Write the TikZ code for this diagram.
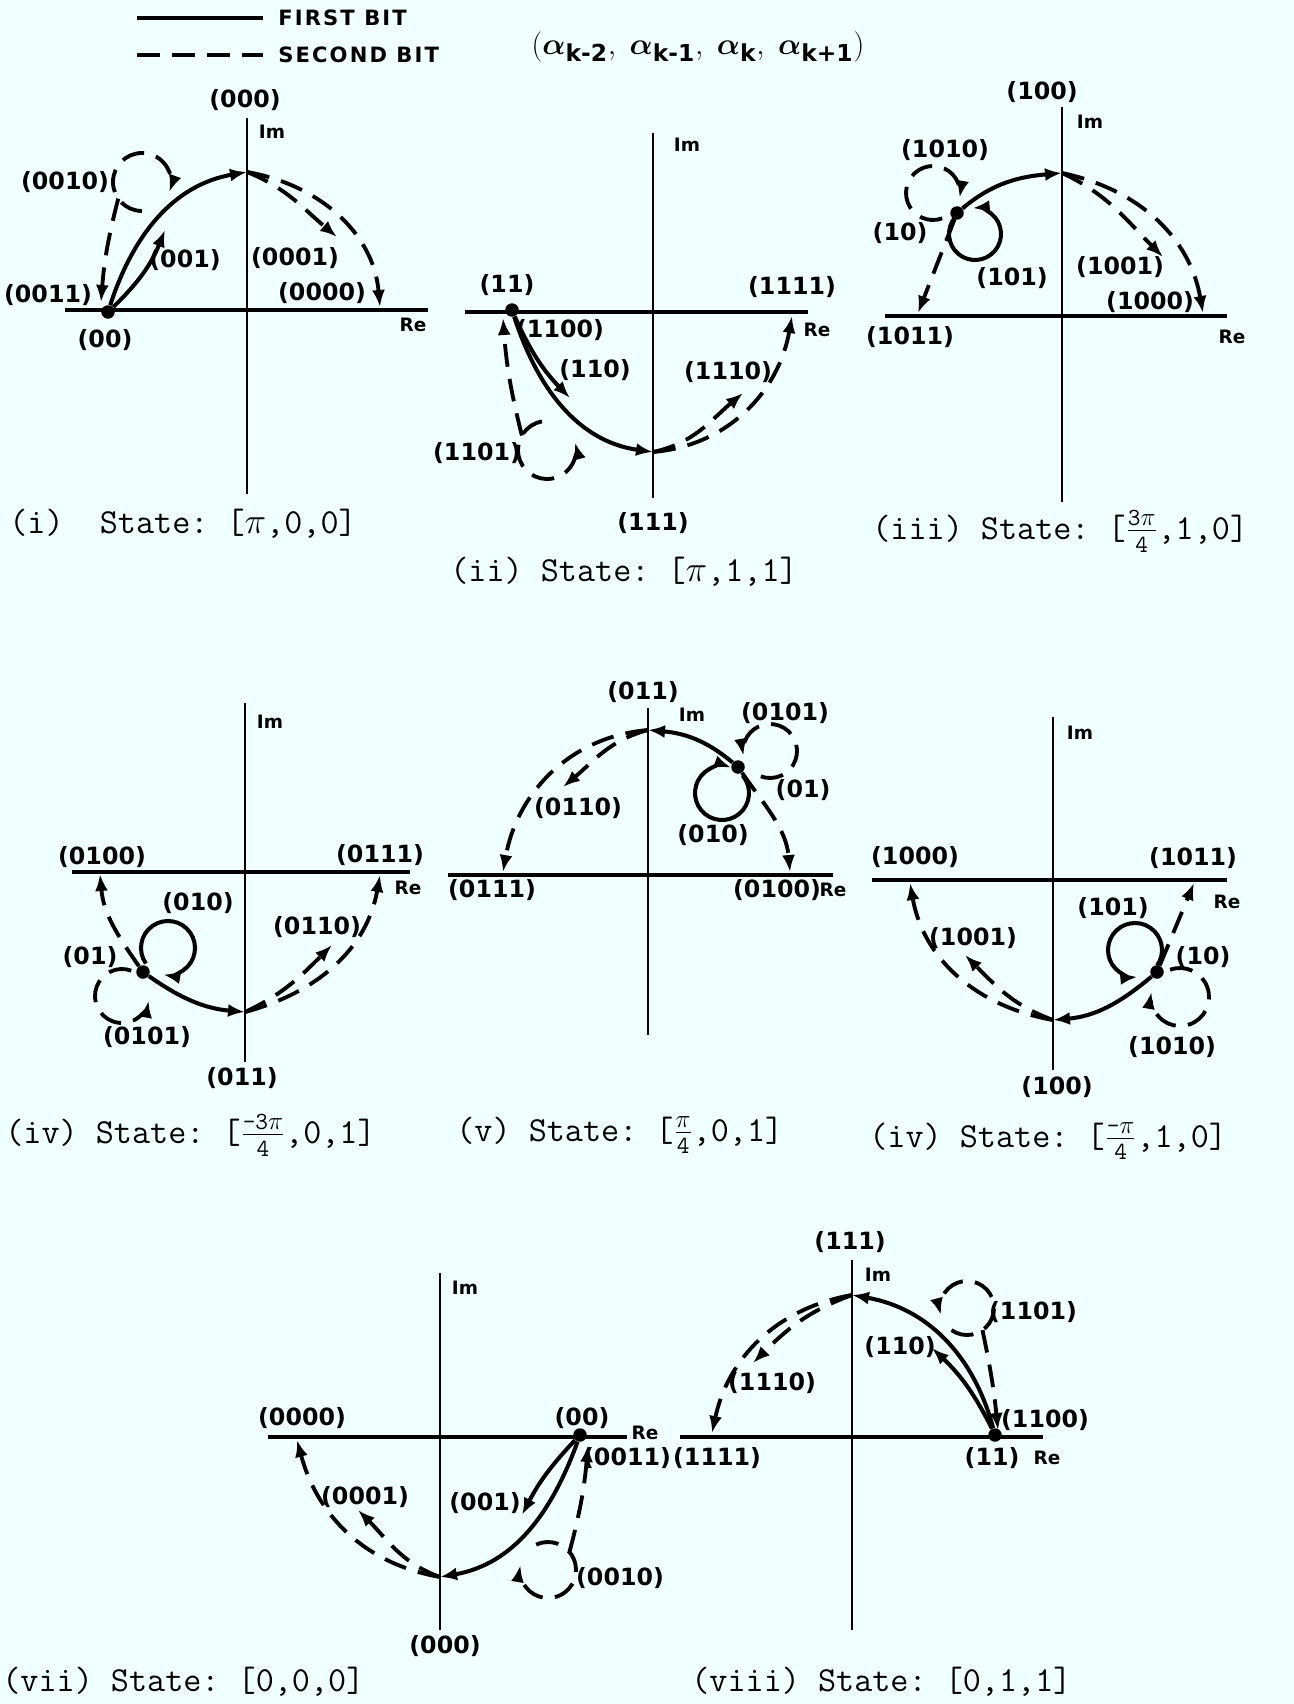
\documentclass[tikz,border=0pt]{standalone}
\usepackage{amsmath}
\usepackage{fontspec}
\usepackage{xcolor}
\newfontfamily\lblfam{DejaVu Sans}
\newfontfamily\lgdfam{DejaVu Sans}[LetterSpace=10]
\usetikzlibrary{arrows.meta}
\definecolor{paper}{RGB}{240,255,255}
\newcommand{\lblfont}{\lblfam\bfseries\fontsize{13.5}{15}\selectfont}
\newcommand{\axfont}{\lblfam\bfseries\fontsize{10.5}{12}\selectfont}
\newcommand{\lgdfont}{\lgdfam\bfseries\fontsize{12}{14}\selectfont}
\newcommand{\capfont}{\ttfamily\frenchspacing\fontsize{20}{22}\selectfont}
\newcommand{\ttlfont}{\fontsize{19}{22}\selectfont}
\newcommand{\pifrac}[2]{$\frac{\text{#1}}{\text{#2}}$}
\newcommand{\subk}[1]{\text{\lblfam\bfseries #1}}
\tikzset{
	axre/.style={line width=2.6pt},
	axim/.style={line width=1.6pt},
	fbit/.style={line width=2.3pt},
	sbit/.style={line width=2.2pt, dash pattern=on 13pt off 7pt},
	ahead/.style={-{Latex[length=3.4mm,width=2.6mm]}},
	dotn/.style={circle, fill, inner sep=0pt, minimum size=2.7mm},
	stt/.style={font=\lblfont, inner sep=1pt},
	axl/.style={font=\axfont, inner sep=0pt},
	capt/.style={font=\capfont, anchor=west, inner sep=0pt},
	lgd/.style={font=\lgdfont, anchor=west, inner sep=0pt},
}
\begin{document}
\begin{tikzpicture}[x=0.2mm, y=0.2mm, >=latex]
	\useasboundingbox (0,0) rectangle (1294,-1704);
	\fill[paper] (0,0) rectangle (1294,-1704);
	\coordinate (lgA) at (137,-18);
	\coordinate (lgB) at (263,-18);
	\coordinate (lgC) at (137,-55);
	\coordinate (lgD) at (263,-55);
	\draw[fbit] (lgA) -- (lgB);
	\draw[sbit] (lgC) -- (lgD);
	\node[lgd] (fbt) at (278,-18) {FIRST BIT};
	\node[lgd] (sbt) at (278,-55) {SECOND BIT};
	\node[font=\ttlfont] (ttl) at (698,-47) {$(\boldsymbol{\alpha}_{\subk{k-2}},\;\boldsymbol{\alpha}_{\subk{k-1}},\;\boldsymbol{\alpha}_{\subk{k}},\;\boldsymbol{\alpha}_{\subk{k+1}})$};

	\draw[axre] (65,-310) -- (428,-310);
	\draw[axim] (247,-118) -- (247,-494);
	\node[dotn] (dA) at (108,-312) {};
	\coordinate (tA) at (247,-172);
	\coordinate (eA1) at (165,-230);
	\coordinate (eA2) at (380,-307);
	\coordinate (eA3) at (337,-237);
	\coordinate (eA4) at (101,-302);
	\coordinate (cA) at (142,-182);
	\draw[fbit, ahead] (dA) to[out=72, in=190] (tA);
	\draw[fbit, ahead] (dA) to[bend right=12] (eA1);
	\draw[sbit, ahead] (tA) to[out=-10, in=95] (eA2);
	\draw[sbit, ahead] (tA) to[out=-22, in=140] (eA3);
	\draw[sbit, ahead] ([shift={(270:29)}]cA) arc[start angle=270, end angle=-20, radius=29];
	\draw[sbit, ahead] ([shift={(215:29)}]cA) to[bend right=5] (eA4);
	\node[stt] (sA000) at (245,-100) {(000)};
	\node[axl] (imA) at (272,-132) {Im};
	\node[stt] (sA0010) at (65,-182) {(0010)};
	\node[stt] (sA001) at (185,-260) {(001)};
	\node[stt] (sA0001) at (295,-258) {(0001)};
	\node[stt] (sA0011) at (48,-295) {(0011)};
	\node[stt] (sA0000) at (322,-293) {(0000)};
	\node[stt] (sA00) at (105,-340) {(00)};
	\node[axl] (reA) at (413,-325) {Re};
	\node[capt] (capA) at (9,-524) {(i)\ \ State: [$\pi$,0,0]};

	\draw[axre] (465,-312) -- (808,-312);
	\draw[axim] (653,-133) -- (653,-498);
	\node[dotn] (dB) at (512,-310) {};
	\coordinate (tB) at (653,-452);
	\coordinate (eB1) at (570,-398);
	\coordinate (eB2) at (792,-316);
	\coordinate (eB3) at (743,-393);
	\coordinate (eB4) at (503,-318);
	\coordinate (cB) at (547,-450);
	\draw[fbit, ahead] (dB) to[out=-72, in=172] (tB);
	\draw[fbit, ahead] (dB) to[bend right=10] (eB1);
	\draw[sbit, ahead] (tB) to[out=5, in=-100] (eB2);
	\draw[sbit, ahead] (tB) to[out=12, in=-140] (eB3);
	\draw[sbit, ahead] ([shift={(100:29)}]cB) arc[start angle=100, end angle=375, radius=29];
	\draw[sbit, ahead] ([shift={(150:29)}]cB) to[bend left=5] (eB4);
	\node[axl] (imB) at (687,-145) {Im};
	\node[stt] (sB11) at (507,-285) {(11)};
	\node[stt] (sB1111) at (792,-287) {(1111)};
	\node[axl] (reB) at (817,-330) {Re};
	\node[stt] (sB1100) at (560,-330) {(1100)};
	\node[stt] (sB110) at (595,-370) {(110)};
	\node[stt] (sB1110) at (728,-372) {(1110)};
	\node[stt] (sB1101) at (477,-453) {(1101)};
	\node[stt] (sB111) at (653,-523) {(111)};
	\node[capt] (capB) at (450,-572) {(ii) State: [$\pi$,1,1]};

	\draw[axre] (885,-316) -- (1227,-316);
	\draw[axim] (1062,-107) -- (1062,-502);
	\node[dotn] (dC) at (957,-213) {};
	\coordinate (tC) at (1062,-173);
	\coordinate (eC1) at (1203,-313);
	\coordinate (eC2) at (1163,-257);
	\coordinate (eC3) at (918,-313);
	\coordinate (cC1) at (975,-234);
	\coordinate (cC2) at (933,-193);
	\draw[fbit, ahead] (dC) to[out=40, in=185] (tC);
	\draw[fbit, ahead] ([shift={(140:26)}]cC1) arc[start angle=140, end angle=455, radius=26];
	\draw[sbit, ahead] ([shift={(-70:27)}]cC2) arc[start angle=-70, end angle=-370, radius=27];
	\draw[sbit, ahead] (dC) -- (eC3);
	\draw[sbit, ahead] (tC) to[out=-12, in=100] (eC1);
	\draw[sbit, ahead] (tC) to[out=-25, in=135] (eC2);
	\node[stt] (sC100) at (1042,-92) {(100)};
	\node[axl] (imC) at (1090,-122) {Im};
	\node[stt] (sC1010) at (945,-150) {(1010)};
	\node[stt] (sC10) at (900,-233) {(10)};
	\node[stt] (sC101) at (1012,-278) {(101)};
	\node[stt] (sC1001) at (1120,-267) {(1001)};
	\node[stt] (sC1000) at (1150,-302) {(1000)};
	\node[stt] (sC1011) at (910,-337) {(1011)};
	\node[axl] (reC) at (1232,-337) {Re};
	\node[capt] (capC) at (872,-531) {(iii) State: [\pifrac{3$\pi$}{4},1,0]};

	\draw[axre] (72,-872) -- (410,-872);
	\draw[axim] (245,-703) -- (245,-1062);
	\node[dotn] (dD) at (143,-972) {};
	\coordinate (tD) at (245,-1012);
	\coordinate (eD1) at (100,-874);
	\coordinate (eD2) at (380,-875);
	\coordinate (eD3) at (332,-945);
	\coordinate (cD1) at (168,-948);
	\coordinate (cD2) at (122,-996);
	\draw[fbit, ahead] (dD) to[out=-35, in=175] (tD);
	\draw[fbit, ahead] ([shift={(215:27)}]cD1) arc[start angle=215, end angle=-100, radius=27];
	\draw[sbit, ahead] ([shift={(70:27)}]cD2) arc[start angle=70, end angle=350, radius=27];
	\draw[sbit, ahead] (dD) to[out=125, in=-85] (eD1);
	\draw[sbit, ahead] (tD) to[out=15, in=-100] (eD2);
	\draw[sbit, ahead] (tD) to[out=25, in=-135] (eD3);
	\node[axl] (imD) at (270,-722) {Im};
	\node[stt] (sD0100) at (102,-857) {(0100)};
	\node[stt] (sD0111) at (380,-855) {(0111)};
	\node[axl] (reD) at (408,-888) {Re};
	\node[stt] (sD010) at (198,-903) {(010)};
	\node[stt] (sD0110) at (317,-927) {(0110)};
	\node[stt] (sD01) at (90,-957) {(01)};
	\node[stt] (sD0101) at (147,-1037) {(0101)};
	\node[stt] (sD011) at (242,-1078) {(011)};
	\node[capt] (capD) at (5,-1135) {(iv) State: [\pifrac{-3$\pi$}{4},0,1]};

	\draw[axre] (448,-875) -- (833,-875);
	\draw[axim] (648,-708) -- (648,-1035);
	\node[dotn] (dE) at (738,-767) {};
	\coordinate (tE) at (648,-730);
	\coordinate (eE1) at (503,-872);
	\coordinate (eE2) at (563,-787);
	\coordinate (eE3) at (790,-872);
	\coordinate (cE1) at (722,-793);
	\coordinate (cE2) at (770,-751);
	\draw[fbit, ahead] (dE) to[out=140, in=-5] (tE);
	\draw[fbit, ahead] ([shift={(40:27)}]cE1) arc[start angle=40, end angle=-290, radius=27];
	\draw[sbit, ahead] ([shift={(-110:27)}]cE2) arc[start angle=-110, end angle=190, radius=27];
	\draw[sbit, ahead] (dE) to[out=-55, in=95] (eE3);
	\draw[sbit, ahead] (tE) to[out=185, in=80] (eE1);
	\draw[sbit, ahead] (tE) to[out=195, in=40] (eE2);
	\node[stt] (sE011) at (643,-692) {(011)};
	\node[axl] (imE) at (692,-715) {Im};
	\node[stt] (sE0101) at (785,-713) {(0101)};
	\node[stt] (sE01) at (803,-790) {(01)};
	\node[stt] (sE010) at (713,-835) {(010)};
	\node[stt] (sE0110) at (578,-808) {(0110)};
	\node[stt] (sE0111) at (492,-890) {(0111)};
	\node[stt] (sE0100) at (777,-890) {(0100)};
	\node[axl] (reE) at (833,-890) {Re};
	\node[capt] (capE) at (456,-1135) {(v) State: [\pifrac{$\pi$}{4},0,1]};

	\draw[axre] (872,-880) -- (1227,-880);
	\draw[axim] (1053,-717) -- (1053,-1070);
	\node[dotn] (dF) at (1157,-972) {};
	\coordinate (tF) at (1053,-1020);
	\coordinate (eF1) at (910,-883);
	\coordinate (eF2) at (965,-955);
	\coordinate (eF3) at (1194,-883);
	\coordinate (cF1) at (1135,-950);
	\coordinate (cF2) at (1180,-997);
	\draw[fbit, ahead] (dF) to[out=-140, in=5] (tF);
	\draw[fbit, ahead] ([shift={(-35:27)}]cF1) arc[start angle=-35, end angle=275, radius=27];
	\draw[sbit, ahead] ([shift={(110:29)}]cF2) arc[start angle=110, end angle=-190, radius=29];
	\draw[sbit, ahead] (dF) -- (eF3);
	\draw[sbit, ahead] (tF) to[out=170, in=-80] (eF1);
	\draw[sbit, ahead] (tF) to[out=160, in=-45] (eF2);
	\node[axl] (imF) at (1080,-733) {Im};
	\node[stt] (sF1000) at (915,-857) {(1000)};
	\node[stt] (sF1011) at (1193,-858) {(1011)};
	\node[axl] (reF) at (1227,-902) {Re};
	\node[stt] (sF101) at (1113,-908) {(101)};
	\node[stt] (sF10) at (1203,-957) {(10)};
	\node[stt] (sF1001) at (973,-938) {(1001)};
	\node[stt] (sF1010) at (1172,-1047) {(1010)};
	\node[stt] (sF100) at (1057,-1087) {(100)};
	\node[capt] (capF) at (869,-1141) {(iv) State: [\pifrac{-$\pi$}{4},1,0]};

	\draw[axre] (268,-1437) -- (627,-1437);
	\draw[axim] (440,-1273) -- (440,-1630);
	\node[dotn] (dG) at (580,-1435) {};
	\coordinate (tG) at (440,-1577);
	\coordinate (eG1) at (522,-1515);
	\coordinate (eG2) at (297,-1440);
	\coordinate (eG3) at (358,-1510);
	\coordinate (eG4) at (588,-1445);
	\coordinate (cG) at (548,-1570);
	\draw[fbit, ahead] (dG) to[out=-110, in=10] (tG);
	\draw[fbit, ahead] (dG) to[bend right=8] (eG1);
	\draw[sbit, ahead] ([shift={(115:28)}]cG) arc[start angle=115, end angle=-190, radius=28];
	\draw[sbit, ahead] ([shift={(40:28)}]cG) to[bend right=5] (eG4);
	\draw[sbit, ahead] (tG) to[out=170, in=-75] (eG2);
	\draw[sbit, ahead] (tG) to[out=160, in=-45] (eG3);
	\node[axl] (imG) at (465,-1288) {Im};
	\node[stt] (sG0000) at (302,-1418) {(0000)};
	\node[stt] (sG00) at (582,-1418) {(00)};
	\node[axl] (reG) at (645,-1433) {Re};
	\node[stt] (sG0011) at (627,-1458) {(0011)};
	\node[stt] (sG001) at (485,-1503) {(001)};
	\node[stt] (sG0001) at (365,-1497) {(0001)};
	\node[stt] (sG0010) at (620,-1578) {(0010)};
	\node[stt] (sG000) at (445,-1646) {(000)};
	\node[capt] (capG) at (2,-1682) {(vii) State: [0,0,0]};

	\draw[axre] (680,-1437) -- (1043,-1437);
	\draw[axim] (852,-1260) -- (852,-1630);
	\node[dotn] (dH) at (995,-1435) {};
	\coordinate (tH) at (852,-1295);
	\coordinate (eH1) at (932,-1348);
	\coordinate (eH2) at (712,-1433);
	\coordinate (eH3) at (753,-1363);
	\coordinate (eH4) at (998,-1430);
	\coordinate (cH) at (967,-1308);
	\draw[fbit, ahead] (dH) to[out=105, in=-10] (tH);
	\draw[fbit, ahead] (dH) to[bend right=10] (eH1);
	\draw[sbit, ahead] ([shift={(235:27)}]cH) arc[start angle=235, end angle=555, radius=27];
	\draw[sbit, ahead] ([shift={(-55:27)}]cH) to[bend left=3] (eH4);
	\draw[sbit, ahead] (tH) to[out=190, in=78] (eH2);
	\draw[sbit, ahead] (tH) to[out=200, in=45] (eH3);
	\node[stt] (sH111) at (850,-1242) {(111)};
	\node[axl] (imH) at (878,-1275) {Im};
	\node[stt] (sH1101) at (1033,-1312) {(1101)};
	\node[stt] (sH110) at (900,-1347) {(110)};
	\node[stt] (sH1110) at (772,-1383) {(1110)};
	\node[stt] (sH1100) at (1045,-1420) {(1100)};
	\node[stt] (sH1111) at (717,-1458) {(1111)};
	\node[stt] (sH11) at (992,-1458) {(11)};
	\node[axl] (reH) at (1047,-1458) {Re};
	\node[capt] (capH) at (691,-1682) {(viii) State: [0,1,1]};
\end{tikzpicture}
\end{document}
